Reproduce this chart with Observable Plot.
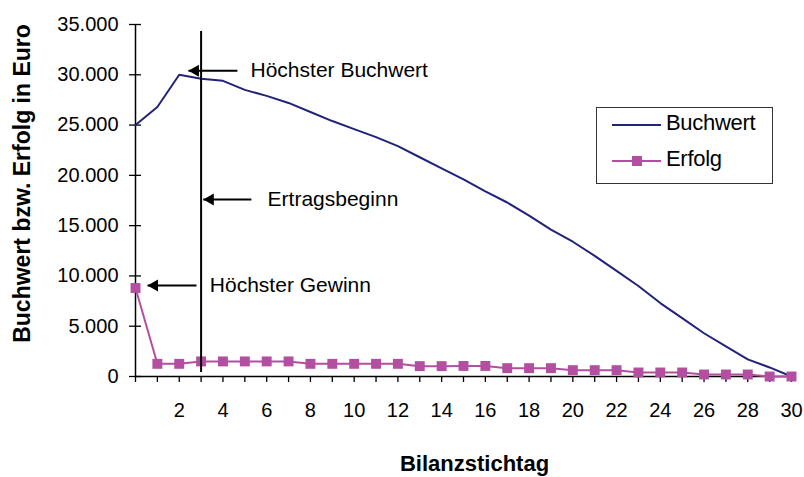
<!DOCTYPE html>
<html><head><meta charset="utf-8">
<script src="https://cdn.jsdelivr.net/npm/d3@7"></script>
<script src="https://cdn.jsdelivr.net/npm/@observablehq/plot@0.6"></script>
<style>
body{margin:0;background:#fff;}
#wrap{position:relative;width:804px;height:477px;font-family:Arial,"Liberation Sans",sans-serif;}
#legend{position:absolute;left:596px;top:107px;width:175px;height:75px;border:1px solid #333;background:#fff;}
#legend .ln{position:absolute;left:15px;width:49px;height:2px;}
#legend .sq{position:absolute;width:10px;height:10px;}
#legend .tx{position:absolute;left:69px;font-size:22px;line-height:22px;letter-spacing:-0.3px;color:#000;}
</style></head><body><div id="wrap"></div>
<script>
const stichtag = [0,1,2,3,4,5,6,7,8,9,10,11,12,13,14,15,16,17,18,19,20,21,22,23,24,25,26,27,28,29,30];
const buchwert = [25000,26800,30000,29600,29400,28500,27900,27200,26300,25400,24600,23800,22900,21800,20700,19600,18400,17300,16000,14600,13400,12000,10500,9000,7300,5800,4300,3000,1700,900,0];
const erfolg = [8800,1260,1260,1500,1500,1500,1500,1500,1260,1260,1260,1260,1260,1030,1030,1050,1050,830,830,830,630,630,630,400,400,400,200,200,200,0,0];
const yTicks = [0,5000,10000,15000,20000,25000,30000,35000];
const xTickLabels = [2,4,6,8,10,12,14,16,18,20,22,24,26,28,30];
const seriesNames = ["Buchwert","Erfolg"];
const xTitle = "Bilanzstichtag";
const yTitle = "Buchwert bzw. Erfolg in Euro";
const markerX = [3];
const markerTop = 34300, markerBottom = 400;
const annotLabels = ["Höchster Buchwert","Ertragsbeginn","Höchster Gewinn"];
const annotTipX = [2.42,3.1,0.55];
const annotEndX = [4.66,5.3,2.79];
const annotTextX = [5.26,6.04,3.4];
const annotY = [30400,17600,9050];

const navy = "#22227a", magenta = "#b34fa0";
const fmt = d3.formatLocale({decimal:",",thousands:".",grouping:[3],currency:["","€"]}).format(",");
const rows = stichtag.map((t,i)=>({t, b: buchwert[i], e: erfolg[i]}));
const annots = annotLabels.map((label,i)=>({label, tip: annotTipX[i], end: annotEndX[i], tx: annotTextX[i], y: annotY[i]}));

const chart = Plot.plot({
  width: 804, height: 477,
  marginLeft: 135, marginRight: 13, marginTop: 24, marginBottom: 101,
  style: {fontFamily: "Arial, 'Liberation Sans', sans-serif", fontSize: "20px", color: "#000", background: "#fff", overflow: "visible"},
  x: {domain: [0,30]},
  y: {domain: [0,35000]},
  marks: [
    Plot.axisX({ticks: stichtag, tickSize: 6, tickPadding: 20, strokeWidth: 1.3, tickFormat: d => xTickLabels.includes(d) ? String(d) : "", label: null, fontSize: 20}),
    Plot.ruleY(yTicks, {y: d => d, x1: 0, x2: 0, insetLeft: -6, insetRight: -6, stroke: "#000", strokeWidth: 1.3}),
    Plot.axisY({ticks: yTicks, tickSize: 0, tickPadding: 17, tickFormat: fmt, label: null, fontSize: 20}),
    Plot.ruleY([0], {stroke: "#000", strokeWidth: 1.5}),
    Plot.ruleX([0], {stroke: "#000", strokeWidth: 1.5}),
    Plot.text([yTitle], {text: d => d, frameAnchor: "left", rotate: -90, dx: -113, dy: -17, fontWeight: "bold", fontSize: 23, textAnchor: "middle", lineAnchor: "middle"}),
    Plot.text([xTitle], {text: d => d, frameAnchor: "bottom", dx: 11, dy: 87, fontWeight: "bold", fontSize: 22, textAnchor: "middle", lineAnchor: "middle"}),
    Plot.line(rows, {x: "t", y: "b", stroke: navy, strokeWidth: 2}),
    Plot.line(rows, {x: "t", y: "e", stroke: magenta, strokeWidth: 2}),
    Plot.dot(rows, {x: "t", y: "e", symbol: "square", r: 5.6, fill: magenta}),
    Plot.ruleX(markerX, {x: d => d, y1: markerTop, y2: markerBottom, stroke: "#000", strokeWidth: 2}),
    Plot.link(annots, {x1: "tip", x2: "end", y1: "y", y2: "y", stroke: "#000", strokeWidth: 2}),
    Plot.dot(annots, {x: "tip", y: "y", symbol: "triangle", rotate: -90, r: 4.5, fill: "#000", dx: 7}),
    Plot.text(annots, {x: "tx", y: "y", text: "label", textAnchor: "start", lineAnchor: "middle", fontSize: 21})
  ]
});
const wrap = document.getElementById("wrap");
wrap.appendChild(chart);

const legend = document.createElement("div");
legend.id = "legend";
legend.innerHTML =
  `<div class="ln" style="top:16px;background:${navy}"></div>` +
  `<div class="tx" style="top:4px">${seriesNames[0]}</div>` +
  `<div class="ln" style="top:52px;background:${magenta}"></div>` +
  `<div class="sq" style="left:35px;top:48px;background:${magenta}"></div>` +
  `<div class="tx" style="top:40px">${seriesNames[1]}</div>`;
wrap.appendChild(legend);
</script>
</body></html>
